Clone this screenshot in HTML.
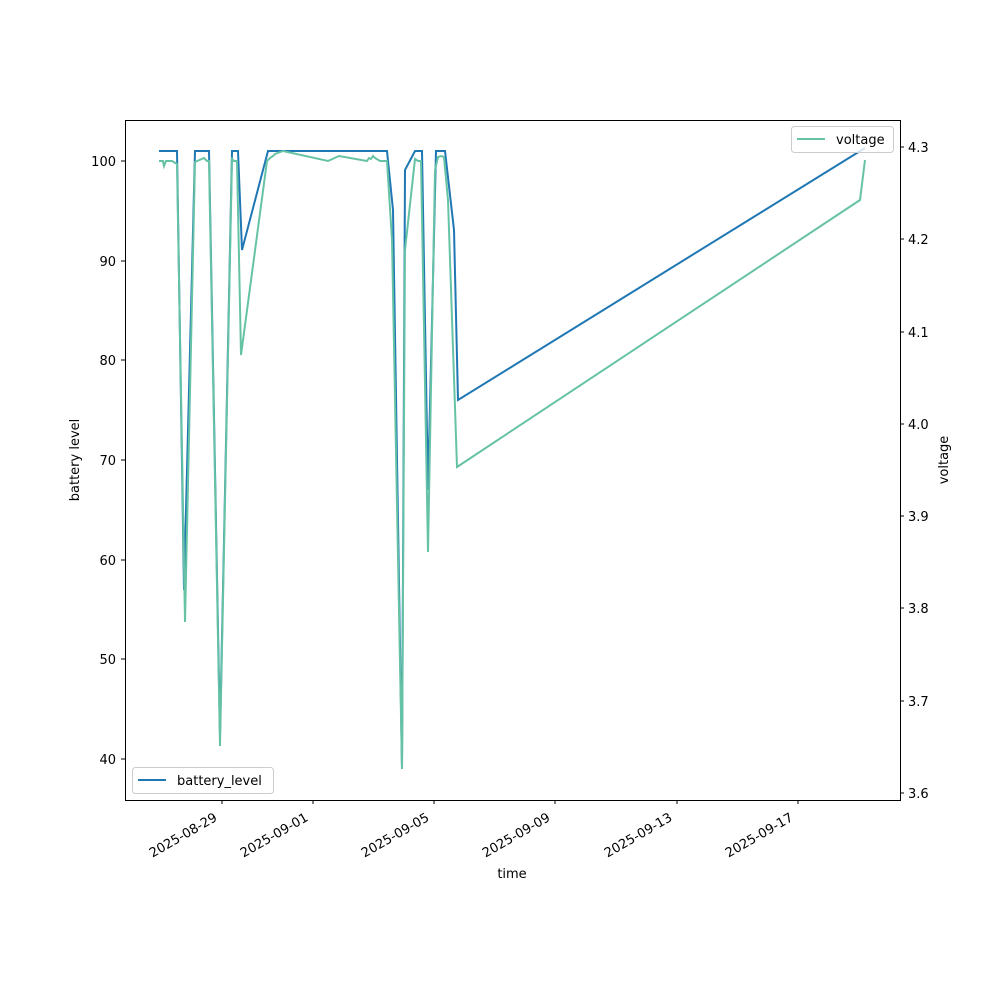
<!DOCTYPE html>
<html><head><meta charset="utf-8"><style>body{margin:0;background:#fff}svg text{font-family:"DejaVu Sans","Liberation Sans",sans-serif;font-size:13px;fill:#000}</style></head><body>
<svg width="1000" height="1000" xmlns="http://www.w3.org/2000/svg">
<rect width="1000" height="1000" fill="#fff"/>
<g fill="none" stroke-linejoin="miter" stroke-width="2">
<polyline stroke="#1f77b4" points="159,151 177,151 184,590 195,151 209,151 220,735 232,151 238,151 242,250 268,151 387,151 393,210 402,769 405,170 415,151 422,151 428,490 436,151 445,151 454,230 458,400 865,148"/>
<polyline stroke="#66c2a5" points="159,161 163,161 164,166 166,161 172,161 177,164 185,622 195,162 204,158 207,161 209,161 220,746 232,159 234,161 237,161 241,355 267,161 270,158 273,156 275,154 283,151 328,161 339,156 367,161 369,158 371,159 373,156 375,158 380,161 387,161 392,240 402,769 405,250 415,159 418,161 421,161 428,552 435,170 438,157 441,156 444,157 448,200 457,467 860,200 865,160"/>
</g>
<rect x="125.5" y="120.5" width="775" height="680" fill="none" stroke="#000" stroke-width="1"/>
<g stroke="#000">
<line x1="125" x2="121" y1="759" y2="759"/><line x1="125" x2="121" y1="659" y2="659"/><line x1="125" x2="121" y1="560" y2="560"/><line x1="125" x2="121" y1="460" y2="460"/><line x1="125" x2="121" y1="360" y2="360"/><line x1="125" x2="121" y1="261" y2="261"/><line x1="125" x2="121" y1="161" y2="161"/>
<line x1="900" x2="904" y1="793" y2="793"/><line x1="900" x2="904" y1="701" y2="701"/><line x1="900" x2="904" y1="608" y2="608"/><line x1="900" x2="904" y1="516" y2="516"/><line x1="900" x2="904" y1="424" y2="424"/><line x1="900" x2="904" y1="332" y2="332"/><line x1="900" x2="904" y1="239" y2="239"/><line x1="900" x2="904" y1="147" y2="147"/>
<line x1="222" x2="222" y1="800" y2="804"/><line x1="313" x2="313" y1="800" y2="804"/><line x1="434" x2="434" y1="800" y2="804"/><line x1="555" x2="555" y1="800" y2="804"/><line x1="677" x2="677" y1="800" y2="804"/><line x1="798" x2="798" y1="800" y2="804"/>
</g>
<g text-anchor="end">
<text x="116" y="764">40</text><text x="116" y="664">50</text><text x="116" y="565">60</text><text x="116" y="465">70</text><text x="116" y="365">80</text><text x="116" y="266">90</text><text x="116" y="166">100</text>
</g>
<g>
<text x="908" y="798">3.6</text><text x="908" y="706">3.7</text><text x="908" y="613">3.8</text><text x="908" y="521">3.9</text><text x="908" y="429">4.0</text><text x="908" y="337">4.1</text><text x="908" y="244">4.2</text><text x="908" y="152">4.3</text>
</g>
<g text-anchor="end">
<text transform="translate(218,820) rotate(-30)">2025-08-29</text>
<text transform="translate(309,820) rotate(-30)">2025-09-01</text>
<text transform="translate(430,820) rotate(-30)">2025-09-05</text>
<text transform="translate(551,820) rotate(-30)">2025-09-09</text>
<text transform="translate(673,820) rotate(-30)">2025-09-13</text>
<text transform="translate(794,820) rotate(-30)">2025-09-17</text>
</g>
<text x="512" y="878" text-anchor="middle">time</text>
<text transform="translate(79,460) rotate(-90)" text-anchor="middle">battery level</text>
<text transform="translate(948,460) rotate(-90)" text-anchor="middle">voltage</text>
<rect x="132.5" y="767.5" width="141" height="26" rx="3" fill="#fff" fill-opacity="0.8" stroke="#ccc"/>
<line x1="138" x2="166" y1="780" y2="780" stroke="#1f77b4" stroke-width="2"/>
<text x="177" y="785">battery_level</text>
<rect x="791.5" y="126.5" width="102" height="26" rx="3" fill="#fff" fill-opacity="0.8" stroke="#ccc"/>
<line x1="797" x2="825" y1="139" y2="139" stroke="#66c2a5" stroke-width="2"/>
<text x="836" y="144">voltage</text>
</svg>
</body></html>
